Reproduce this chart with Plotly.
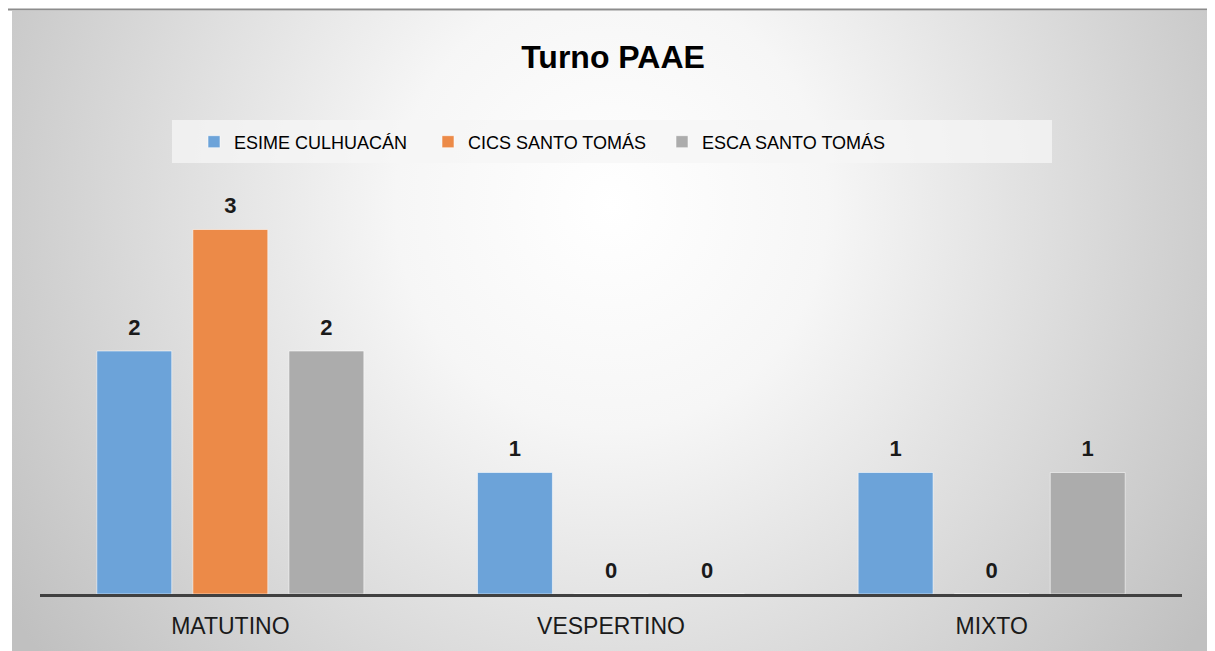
import base64
import plotly.graph_objects as go

categories = ["MATUTINO", "VESPERTINO", "MIXTO"]
series_names = ["ESIME CULHUACÁN", "CICS SANTO TOMÁS", "ESCA SANTO TOMÁS"]
esime = [2, 1, 1]
cics = [3, 0, 0]
esca = [2, 0, 1]
colors = ["#6ca3d9", "#ec8a48", "#acacac"]

OFF = 8  # page body margin
W, H = 1215 - OFF, 651 - OFF
ml, mr, mt, mb = 32, 33, 172, 57
pw, ph = W - ml - mr, H - mt - mb
unit_px = 121.5
ymax = ph / unit_px


def px_x(p):  # reference pixel -> paper x
    return (p - OFF - ml) / pw


def px_y(p):  # reference pixel -> paper y
    return (H - mb - (p - OFF)) / ph


svg = (
    '<svg xmlns="http://www.w3.org/2000/svg" width="1198" height="640" viewBox="0 0 1198 640" preserveAspectRatio="none">'
    '<defs><radialGradient id="g" cx="0.5" cy="0.3" r="0.6" '
    'gradientTransform="translate(0.5,0.3) scale(1,1.9) translate(-0.5,-0.3)">'
    '<stop offset="0" stop-color="#ffffff"/><stop offset="0.3" stop-color="#f6f6f6"/>'
    '<stop offset="1" stop-color="#c0c0c0"/></radialGradient></defs>'
    '<rect x="0" y="0" width="1198" height="640" fill="url(#g)"/></svg>'
)
src = "data:image/svg+xml;base64," + base64.b64encode(svg.encode()).decode()

fig = go.Figure()
for i, (name, vals, col) in enumerate(zip(series_names, [esime, cics, esca], colors)):
    fig.add_trace(go.Bar(
        x=categories, y=vals, name=name, offsetgroup=str(i),
        marker=dict(color=col, line=dict(color="rgba(255,255,255,0.55)", width=1)),
    ))
for i, vals in enumerate([esime, cics, esca]):
    fig.add_trace(go.Scatter(
        x=categories, y=vals, offsetgroup=str(i), mode="markers+text",
        marker=dict(size=16, color="rgba(0,0,0,0)"),
        text=[f"<b>{v}</b>" for v in vals], textposition="top center",
        textfont=dict(family="Liberation Sans", size=22, color="#1a1a1a"),
        cliponaxis=False, showlegend=False, hoverinfo="skip",
    ))

fig.update_layout(
    width=W, height=H,
    margin=dict(l=ml, r=mr, t=mt, b=mb),
    paper_bgcolor="white", plot_bgcolor="rgba(0,0,0,0)",
    barmode="group", bargap=0.243, bargroupgap=0.22,
    scattermode="group", scattergap=0.243,
    title=dict(text="<b>Turno PAAE</b>", x=(613 - OFF) / W, xanchor="center",
               y=1 - (57 - OFF) / H, yanchor="middle",
               font=dict(family="Liberation Sans", size=32, color="#000000")),
    legend=dict(orientation="h", xref="container", yref="container",
                x=(194 - OFF) / W, xanchor="left", y=1 - (142 - OFF) / H, yanchor="middle",
                bgcolor="rgba(0,0,0,0)", entrywidth=189, itemwidth=30,
                font=dict(family="Liberation Sans", size=18, color="#000000")),
    xaxis=dict(showline=True, linecolor="#404040", linewidth=2.5, showgrid=False,
               ticks="", ticklabelstandoff=10,
               tickfont=dict(family="Liberation Sans", size=23, color="#1a1a1a")),
    yaxis=dict(range=[0, ymax], visible=False, showgrid=False, zeroline=False),
    font=dict(family="Liberation Sans"),
    images=[dict(source=src, xref="paper", yref="paper",
                 x=px_x(12), y=px_y(11), sizex=(1211 - 12) / pw, sizey=(660 - 11) / ph,
                 xanchor="left", yanchor="top", sizing="stretch", layer="below")],
    shapes=[
        dict(type="rect", xref="paper", yref="paper", x0=px_x(172), x1=px_x(1052),
             y0=px_y(163), y1=px_y(120), fillcolor="rgba(245,245,245,0.75)",
             line=dict(width=0), layer="below"),
        dict(type="line", xref="paper", yref="paper", x0=px_x(0), x1=px_x(1220),
             y0=px_y(9.5), y1=px_y(9.5), line=dict(color="#8c8c8c", width=2)),
    ],
)

fig.write_html("out.html")
